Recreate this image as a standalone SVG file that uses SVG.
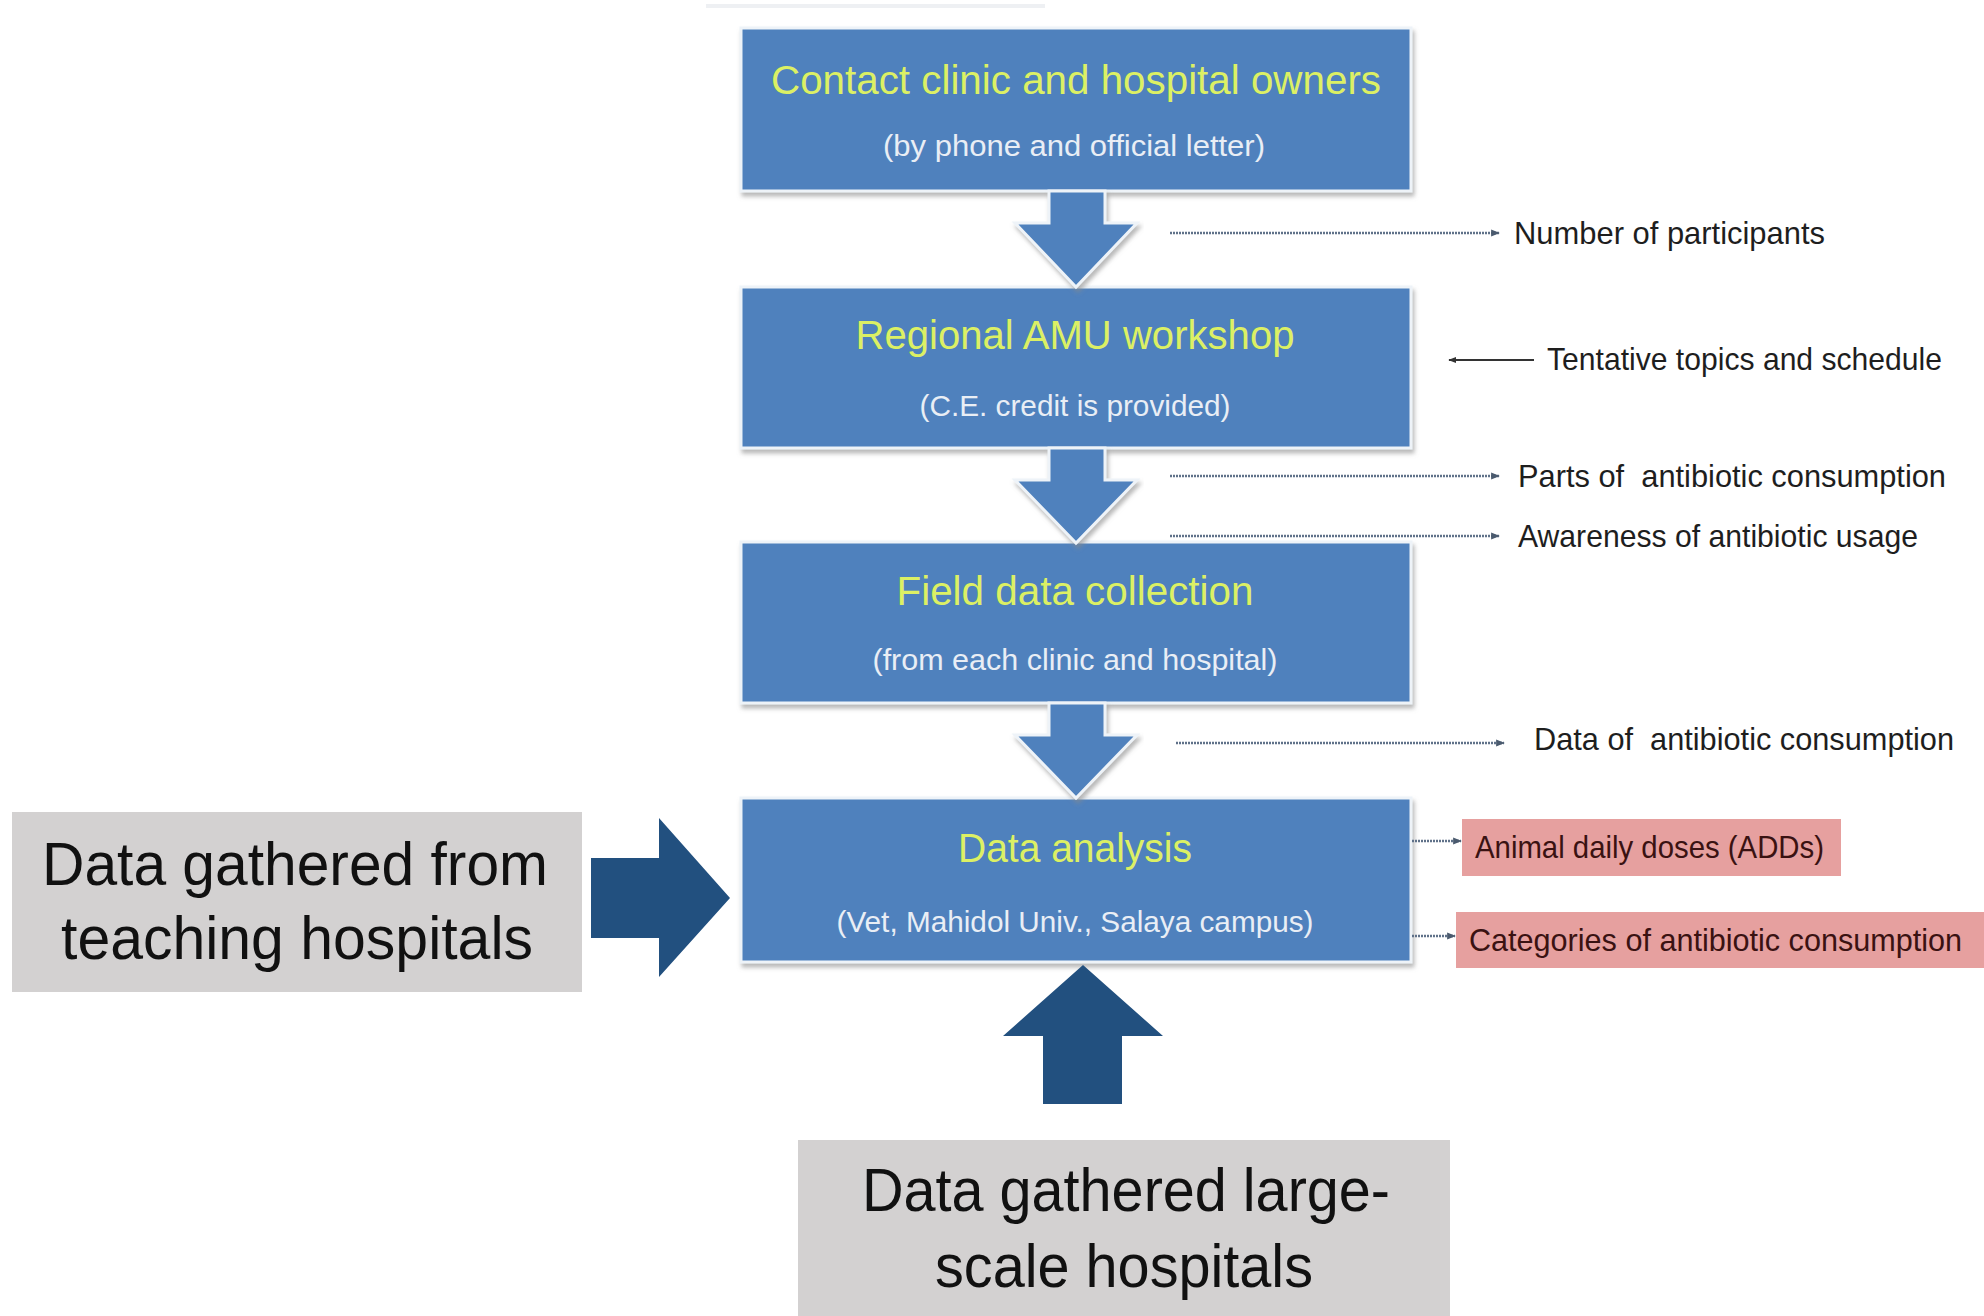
<svg xmlns="http://www.w3.org/2000/svg" width="1984" height="1316" viewBox="0 0 1984 1316">
<defs>
<style>
.box{fill:#4F81BD;stroke:#EEF3F8;stroke-width:3;filter:url(#sh)}
.ttl{font-family:"Liberation Sans",Arial,sans-serif;font-size:41px;fill:#DCF064;text-anchor:middle}
.sub{font-family:"Liberation Sans",Arial,sans-serif;font-size:30px;fill:#E9EEF5;text-anchor:middle}
.lbl{font-family:"Liberation Sans",Arial,sans-serif;font-size:32px;fill:#1E1E1E}
.plbl{font-family:"Liberation Sans",Arial,sans-serif;font-size:32px;fill:#3A1212}
.big{font-family:"Liberation Sans",Arial,sans-serif;font-size:62px;fill:#111111;text-anchor:middle}
.gray{fill:#D3D1D1}
.pink{fill:#E6A09F}
.down{fill:#4F81BD;stroke:#EEF3F8;stroke-width:3;filter:url(#sh)}
.dark{fill:#22507F}
.dot{stroke:#5F7189;stroke-width:2.5;stroke-dasharray:2 1;fill:none;marker-end:url(#ah)}
</style>
<filter id="sh" x="-5%" y="-10%" width="110%" height="125%">
<feDropShadow dx="2" dy="4" stdDeviation="2" flood-color="#8A8A8A" flood-opacity="0.6"/>
</filter>
<marker id="ah" viewBox="0 0 10 10" refX="9" refY="5" markerWidth="3.5" markerHeight="3.5" orient="auto" markerUnits="strokeWidth">
<path d="M0,1 L10,5 L0,9 z" fill="#4A5A6E"/>
</marker>
<marker id="ahs" viewBox="0 0 10 10" refX="9" refY="5" markerWidth="4" markerHeight="4" orient="auto" markerUnits="strokeWidth">
<path d="M0,1 L10,5 L0,9 z" fill="#333333"/>
</marker>
</defs>
<rect width="1984" height="1316" fill="#FFFFFF"/>
<rect x="706" y="4" width="339" height="4" fill="#EEF0F3"/>

<g id="box1">
<rect class="box" x="741" y="28" width="670" height="163"/>
<text class="ttl" x="1076" y="94" textLength="610" lengthAdjust="spacingAndGlyphs">Contact clinic and hospital owners</text>
<text class="sub" x="1074" y="156" textLength="382" lengthAdjust="spacingAndGlyphs">(by phone and official letter)</text>
</g>
<g id="box2">
<rect class="box" x="741" y="287" width="670" height="161"/>
<text class="ttl" x="1075" y="349" textLength="439" lengthAdjust="spacingAndGlyphs">Regional AMU workshop</text>
<text class="sub" x="1075" y="416" textLength="311" lengthAdjust="spacingAndGlyphs">(C.E. credit is provided)</text>
</g>
<g id="box3">
<rect class="box" x="741" y="542" width="670" height="161"/>
<text class="ttl" x="1075" y="605" textLength="357" lengthAdjust="spacingAndGlyphs">Field data collection</text>
<text class="sub" x="1075" y="670" textLength="405" lengthAdjust="spacingAndGlyphs">(from each clinic and hospital)</text>
</g>
<g id="box4">
<rect class="box" x="741" y="798" width="670" height="164"/>
<text class="ttl" x="1075" y="862" textLength="234" lengthAdjust="spacingAndGlyphs">Data analysis</text>
<text class="sub" x="1075" y="932" textLength="477" lengthAdjust="spacingAndGlyphs">(Vet, Mahidol Univ., Salaya campus)</text>
</g>

<g id="connectors">
<path class="down" d="M1049,191 L1105,191 L1105,223 L1137,223 L1076,287 L1015,223 L1049,223 z"/>
<path class="down" d="M1049,448 L1105,448 L1105,480 L1137,480 L1076,543 L1015,480 L1049,480 z"/>
<path class="down" d="M1049,703 L1105,703 L1105,735 L1137,735 L1076,798 L1015,735 L1049,735 z"/>
<path class="dark" d="M591,858 L659,858 L659,818 L730,898 L659,977 L659,938 L591,938 z"/>
<path class="dark" d="M1043,1104 L1122,1104 L1122,1036 L1163,1036 L1083,965 L1003,1036 L1043,1036 z"/>
<line class="dot" x1="1170" y1="233" x2="1499" y2="233"/>
<line x1="1534" y1="360" x2="1449" y2="360" stroke="#333333" stroke-width="2" marker-end="url(#ahs)"/>
<line class="dot" x1="1170" y1="476" x2="1499" y2="476"/>
<line class="dot" x1="1170" y1="536" x2="1499" y2="536"/>
<line class="dot" x1="1176" y1="743" x2="1504" y2="743"/>
<line class="dot" x1="1412" y1="841" x2="1461" y2="841"/>
<line class="dot" x1="1412" y1="936" x2="1455" y2="936"/>
</g>

<g id="lbl-participants">
<text class="lbl" x="1514" y="244" textLength="311" lengthAdjust="spacingAndGlyphs">Number of participants</text>
</g>
<g id="lbl-tentative">
<text class="lbl" x="1547" y="370" textLength="395" lengthAdjust="spacingAndGlyphs">Tentative topics and schedule</text>
</g>
<g id="lbl-parts">
<text class="lbl" x="1518" y="487" textLength="428" lengthAdjust="spacingAndGlyphs" xml:space="preserve">Parts of  antibiotic consumption</text>
</g>
<g id="lbl-awareness">
<text class="lbl" x="1518" y="547" textLength="400" lengthAdjust="spacingAndGlyphs">Awareness of antibiotic usage</text>
</g>
<g id="lbl-data">
<text class="lbl" x="1534" y="750" textLength="420" lengthAdjust="spacingAndGlyphs" xml:space="preserve">Data of  antibiotic consumption</text>
</g>
<g id="add-box">
<rect class="pink" x="1462" y="819" width="379" height="57"/>
<text class="plbl" x="1475" y="858" textLength="349" lengthAdjust="spacingAndGlyphs">Animal daily doses (ADDs)</text>
</g>
<g id="categories-box">
<rect class="pink" x="1456" y="912" width="528" height="56"/>
<text class="plbl" x="1469" y="951" textLength="493" lengthAdjust="spacingAndGlyphs">Categories of antibiotic consumption</text>
</g>
<g id="teaching-box">
<rect class="gray" x="12" y="812" width="570" height="180"/>
<text class="big" x="295" y="885" textLength="506" lengthAdjust="spacingAndGlyphs">Data gathered from</text>
<text class="big" x="297" y="959" textLength="472" lengthAdjust="spacingAndGlyphs">teaching hospitals</text>
</g>
<g id="largescale-box">
<rect class="gray" x="798" y="1140" width="652" height="176"/>
<text class="big" x="1126" y="1211" textLength="528" lengthAdjust="spacingAndGlyphs">Data gathered large-</text>
<text class="big" x="1124" y="1287" textLength="378" lengthAdjust="spacingAndGlyphs">scale hospitals</text>
</g>
</svg>
